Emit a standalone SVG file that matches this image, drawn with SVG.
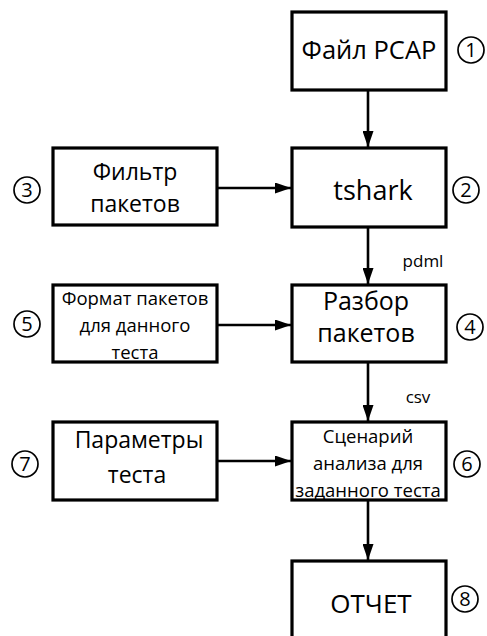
<svg xmlns="http://www.w3.org/2000/svg" width="487" height="636" viewBox="0 0 487 636">
<defs>
<style>
.box{fill:#fff;stroke:#000;stroke-width:3.2}
.lbl{font-family:"Open Sans","Noto Sans","Liberation Sans",sans-serif;fill:#000;text-anchor:middle}
.num{fill:none;stroke:#000;stroke-width:1.7}
.dig{font-family:"Open Sans","Noto Sans","Liberation Sans",sans-serif;font-size:20px;text-anchor:middle;fill:#000}
.edge{stroke:#000;stroke-width:2.6;fill:none}
</style>
<marker id="ah" viewBox="0 0 16 11" refX="16" refY="5.5" markerWidth="16" markerHeight="11" markerUnits="userSpaceOnUse" orient="auto">
<path d="M0,0 L16,5.5 L0,11 Z" fill="#000"/>
</marker>
</defs>
<rect width="487" height="636" fill="#fff"/>
<g id="connectors">
<line class="edge" x1="368" y1="90" x2="368" y2="147" marker-end="url(#ah)"/>
<line class="edge" x1="217" y1="188" x2="291" y2="188" marker-end="url(#ah)"/>
<line class="edge" x1="368" y1="227" x2="368" y2="284" marker-end="url(#ah)"/>
<text class="lbl" style="font-size:17px" x="423" y="267">pdml</text>
<line class="edge" x1="217" y1="325" x2="291" y2="325" marker-end="url(#ah)"/>
<line class="edge" x1="368" y1="362" x2="368" y2="421" marker-end="url(#ah)"/>
<text class="lbl" style="font-size:17px" x="418" y="403">csv</text>
<line class="edge" x1="217" y1="461" x2="291" y2="461" marker-end="url(#ah)"/>
<line class="edge" x1="368" y1="500" x2="368" y2="560" marker-end="url(#ah)"/>
</g>
<g id="n1">
<rect class="box" x="292" y="12" width="154" height="78"/>
<text class="lbl" style="font-size:25.5px" x="369" y="59">Файл PCAP</text>
<circle class="num" cx="471" cy="50" r="13"/>
<text class="dig" x="471" y="57">1</text>
</g>
<g id="n2">
<rect class="box" x="292" y="148" width="154" height="79"/>
<text class="lbl" style="font-size:27px" x="373" y="200">tshark</text>
<circle class="num" cx="466" cy="190" r="13"/>
<text class="dig" x="466" y="197">2</text>
</g>
<g id="n3">
<rect class="box" x="53" y="148" width="164" height="77"/>
<text class="lbl" style="font-size:23px" x="135" y="180">Фильтр</text>
<text class="lbl" style="font-size:23px" x="135" y="212">пакетов</text>
<circle class="num" cx="27" cy="190" r="13"/>
<text class="dig" x="27" y="197">3</text>
</g>
<g id="n4">
<rect class="box" x="292" y="285" width="154" height="77"/>
<text class="lbl" style="font-size:25px" x="366" y="310">Разбор</text>
<text class="lbl" style="font-size:25px" x="366" y="342">пакетов</text>
<circle class="num" cx="470" cy="327" r="13"/>
<text class="dig" x="470" y="334">4</text>
</g>
<g id="n5">
<rect class="box" x="53" y="285" width="164" height="77"/>
<text class="lbl" style="font-size:18.5px" x="135" y="305">Формат пакетов</text>
<text class="lbl" style="font-size:18.5px" x="135" y="332">для данного</text>
<text class="lbl" style="font-size:18.5px" x="135" y="359">теста</text>
<circle class="num" cx="27" cy="324" r="13"/>
<text class="dig" x="27" y="331">5</text>
</g>
<g id="n6">
<rect class="box" x="292" y="422" width="154" height="78"/>
<text class="lbl" style="font-size:18.5px" x="368" y="443">Сценарий</text>
<text class="lbl" style="font-size:18.5px" x="368" y="470">анализа для</text>
<text class="lbl" style="font-size:18.5px" x="368" y="497">заданного теста</text>
<circle class="num" cx="467" cy="464" r="13"/>
<text class="dig" x="467" y="471">6</text>
</g>
<g id="n7">
<rect class="box" x="53" y="422" width="164" height="78"/>
<text class="lbl" style="font-size:23px" x="139" y="448">Параметры</text>
<text class="lbl" style="font-size:23px" x="137" y="483">теста</text>
<circle class="num" cx="25" cy="464" r="13"/>
<text class="dig" x="25" y="471">7</text>
</g>
<g id="n8">
<rect class="box" x="292" y="561" width="154" height="90"/>
<text class="lbl" style="font-size:26px" x="371" y="613">ОТЧЕТ</text>
<circle class="num" cx="465" cy="599" r="13"/>
<text class="dig" x="465" y="606">8</text>
</g>
</svg>
